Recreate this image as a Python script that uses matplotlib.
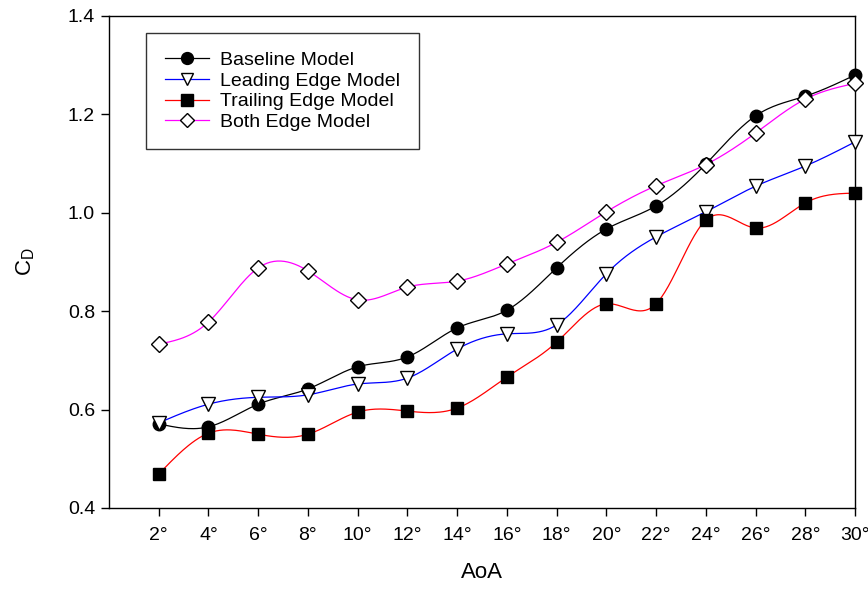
import matplotlib
matplotlib.use("Agg")
import matplotlib.pyplot as plt
import numpy as np

plt.rcParams["font.family"] = ["Liberation Sans", "DejaVu Sans"]

aoa = [2, 4, 6, 8, 10, 12, 14, 16, 18, 20, 22, 24, 26, 28, 30]
tick_labels = [f"{a}°" for a in aoa]

baseline = [0.571, 0.565, 0.611, 0.642, 0.687, 0.707, 0.766, 0.802, 0.888,
            0.967, 1.014, 1.099, 1.197, 1.237, 1.280]
leading = [0.573, 0.611, 0.625, 0.630, 0.652, 0.664, 0.723, 0.754, 0.772,
           0.876, 0.951, 1.002, 1.054, 1.095, 1.144]
trailing = [0.469, 0.552, 0.550, 0.550, 0.595, 0.597, 0.603, 0.666, 0.737,
            0.815, 0.815, 0.985, 0.969, 1.020, 1.040]
both = [0.733, 0.778, 0.888, 0.882, 0.823, 0.849, 0.861, 0.896, 0.940,
        1.002, 1.055, 1.098, 1.162, 1.231, 1.263]


def spline(x, y, n=400):
    # natural cubic spline, only used to draw the smooth connecting line
    x = np.asarray(x, float)
    y = np.asarray(y, float)
    k = len(x)
    h = np.diff(x)
    A = np.zeros((k, k))
    b = np.zeros(k)
    A[0, 0] = A[-1, -1] = 1
    for i in range(1, k - 1):
        A[i, i - 1] = h[i - 1]
        A[i, i] = 2 * (h[i - 1] + h[i])
        A[i, i + 1] = h[i]
        b[i] = 6 * ((y[i + 1] - y[i]) / h[i] - (y[i] - y[i - 1]) / h[i - 1])
    m = np.linalg.solve(A, b)
    xs = np.linspace(x[0], x[-1], n)
    idx = np.clip(np.searchsorted(x, xs) - 1, 0, k - 2)
    x0, x1 = x[idx], x[idx + 1]
    hh = x1 - x0
    t0, t1 = x1 - xs, xs - x0
    ys = (m[idx] * t0**3 + m[idx + 1] * t1**3) / (6 * hh) \
        + (y[idx] / hh - m[idx] * hh / 6) * t0 \
        + (y[idx + 1] / hh - m[idx + 1] * hh / 6) * t1
    return xs, ys


series = [
    ("Baseline Model", baseline, "black", "o", "black", 9),
    ("Leading Edge Model", leading, "blue", "v", "white", 9.5),
    ("Trailing Edge Model", trailing, "red", "s", "black", 8.5),
    ("Both Edge Model", both, "magenta", "D", "white", 8),
]

fig = plt.figure(figsize=(8.68, 5.90), dpi=100)
ax = fig.add_axes([109 / 868, 1 - 508 / 590, 746 / 868, 492 / 590])

for label, vals, color, marker, face, ms in series:
    xs, ys = spline(aoa, vals)
    ax.plot(xs, ys, color=color, lw=0.9, zorder=2)
    ax.plot(aoa, vals, linestyle="none", marker=marker, markersize=ms,
            markerfacecolor=face, markeredgecolor="black", markeredgewidth=1.0,
            zorder=3, clip_on=False)
    ax.plot([], [], color=color, lw=0.9, marker=marker, markersize=ms * 0.95,
            markerfacecolor=face, markeredgecolor="black", label=label)

ax.set_xlim(0, 30)
ax.set_ylim(0.4, 1.4)
ax.set_xticks(aoa)
ax.set_xticklabels(tick_labels)
ax.set_yticks([0.4, 0.6, 0.8, 1.0, 1.2, 1.4])
ax.tick_params(direction="out", length=6, width=1, labelsize=14, pad=8)
ax.tick_params(axis="y", pad=4)
for s in ax.spines.values():
    s.set_linewidth(1.0)

ax.set_xlabel("AoA", fontsize=16, labelpad=13)
ax.set_ylabel("C$_\\mathregular{D}$", fontsize=16, labelpad=22)

leg = ax.legend(loc="upper left", bbox_to_anchor=(0.05, 0.965), fontsize=14,
                frameon=True, fancybox=False, edgecolor="black",
                handlelength=2.3, handletextpad=0.55, labelspacing=0.15,
                borderpad=0.95, borderaxespad=0)
leg.get_frame().set_linewidth(1.0)

fig.savefig("out.png", dpi=100)
